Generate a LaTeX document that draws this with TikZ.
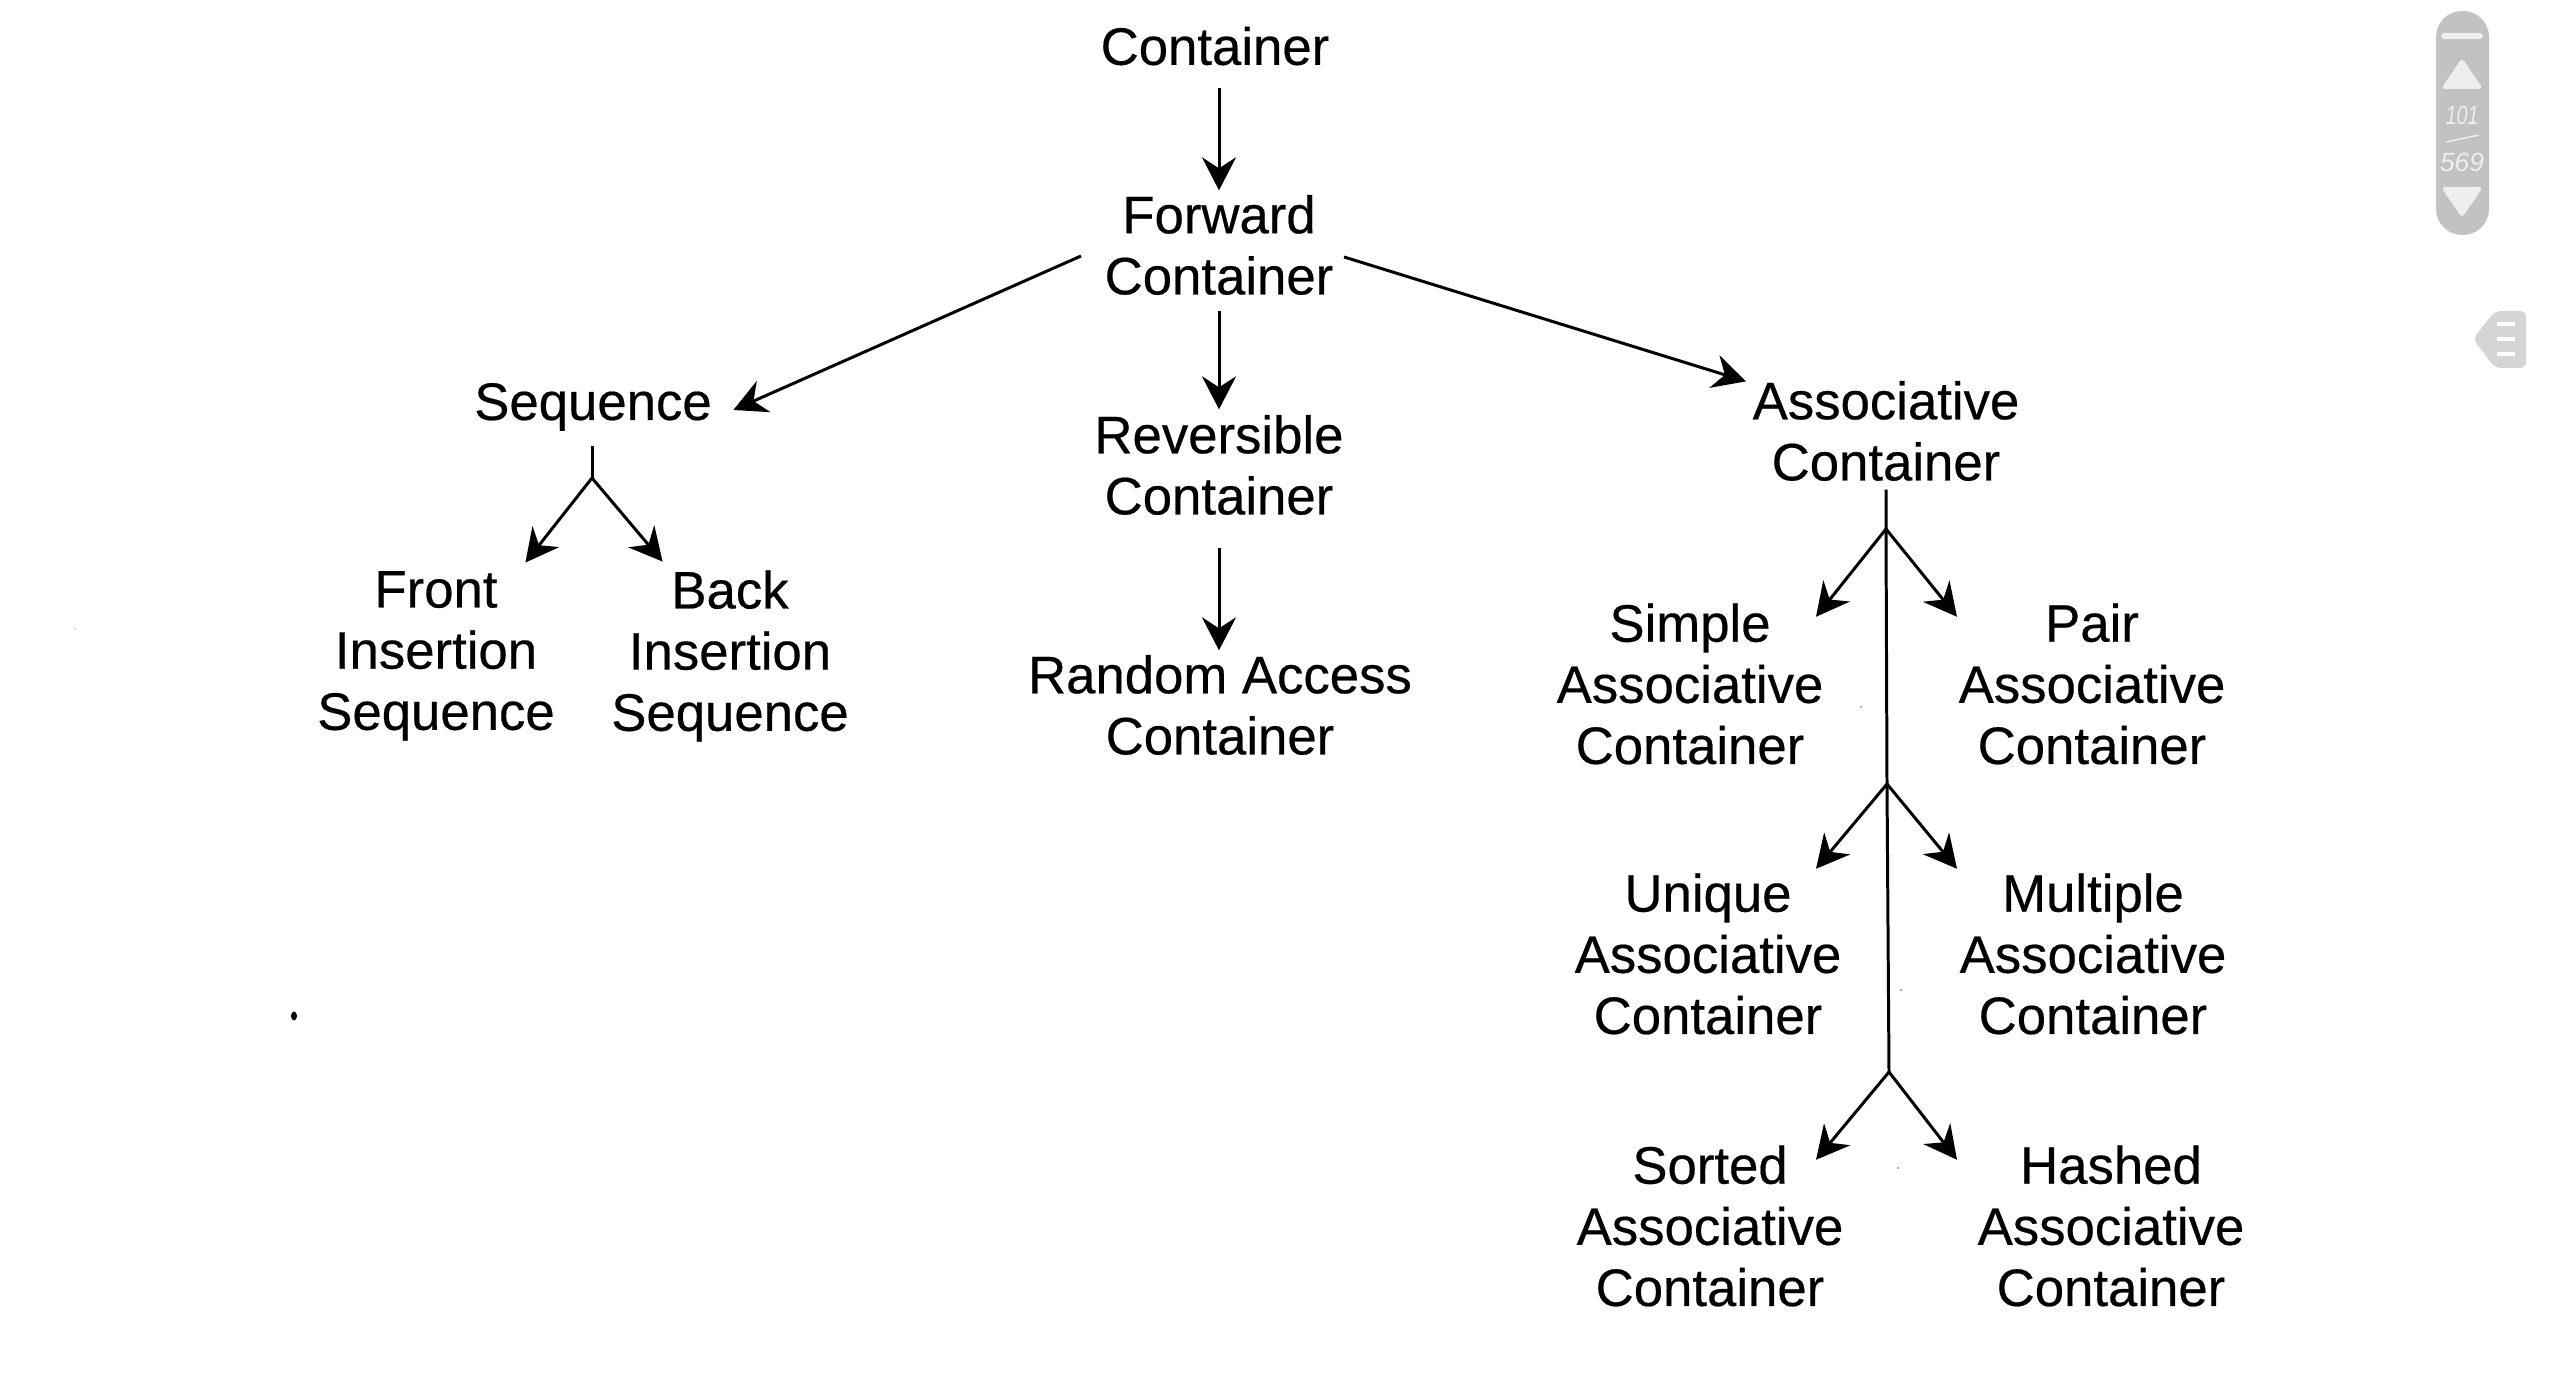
\documentclass[tikz,border=0pt]{standalone}
\usepackage{fontspec}
\setmainfont{Liberation Sans}
\newfontfamily\scanfont[FakeBold=0.4]{Liberation Sans}
\usepackage{xcolor}
\usepackage{tikz}
\usetikzlibrary{arrows.meta}
\definecolor{pagerbody}{HTML}{C2C2C2}
\definecolor{pagerkey}{HTML}{EEEEEE}
\definecolor{tabbody}{HTML}{D5D5D5}

\begin{document}
\begin{tikzpicture}[
concept/.style={inner sep=0pt,align=center,font=\scanfont\fontsize{15}{17.4}\selectfont},
pagenum/.style={inner sep=0pt,text=pagerkey,font=\fontsize{7.5}{8}\selectfont\itshape},
arr/.style={line width=0.85pt,-{Stealth[length=3.3mm,width=3.4mm,inset=1.1mm]}},
stem/.style={line width=0.85pt}
]
\useasboundingbox (0,0) rectangle (25.6,13.8);

% The nodes
\node[concept] (container) at (12.15,13.34) {Container};
\node[concept] (forward) at (12.19,11.35) {Forward\\Container};
\node[concept] (sequence) at (5.93,9.73) {Sequence};
\node[concept] (reversible) at (12.19,9.15) {Reversible\\Container};
\node[concept] (associative) at (18.86,9.49) {Associative\\Container};
\node[concept] (frontins) at (4.36,7.24) {Front\\Insertion\\Sequence};
\node[concept] (backins) at (7.30,7.24) {Back\\Insertion\\Sequence};
\node[concept] (randomacc) at (12.20,6.75) {Random Access\\Container};
\node[concept] (simple) at (16.90,6.96) {Simple\\Associative\\Container};
\node[concept] (pair) at (20.92,6.96) {Pair\\Associative\\Container};
\node[concept] (unique) at (17.08,4.26) {Unique\\Associative\\Container};
\node[concept] (multiple) at (20.93,4.26) {Multiple\\Associative\\Container};
\node[concept] (sorted) at (17.10,1.54) {Sorted\\Associative\\Container};
\node[concept] (hashed) at (21.11,1.54) {Hashed\\Associative\\Container};

% The forks
\coordinate (seqfork) at (5.92,9.02);
\coordinate (assocfork1) at (18.86,8.51);
\coordinate (assocfork2) at (18.87,5.96);
\coordinate (assocfork3) at (18.89,3.08);

% The upper arrows
\draw[arr,shorten <=2.2mm,shorten >=.4mm] (container.south -| forward) -- (forward.north);
\draw[arr,shorten <=1.5mm,shorten >=.5mm] (forward.south) -- (reversible.north);
\draw[arr,shorten <=3.2mm,shorten >=.4mm] (reversible.south) -- (reversible.south |- randomacc.north);
\draw[arr] ([shift={(-.23,-.11)}]forward.west) -- ([shift={(.21,-.03)}]sequence.east);
\draw[arr] ([shift={(.10,-.12)}]forward.east) -- ([shift={(-.06,-.01)}]associative.north west);

% The sequence fork
\draw[stem,shorten <=1.4mm] (sequence.south -| seqfork) -- (seqfork);
\draw[arr] (seqfork) -- ([shift={(-.30,.08)}]frontins.north east);
\draw[arr] (seqfork) -- ([shift={(.52,.08)}]backins.north west);

% The associative forks
\draw[stem,shorten <=.8mm] (associative.south -| assocfork1) -- (assocfork1) -- (assocfork2) -- (assocfork3);
\draw[arr] (assocfork1) -- ([shift={(-.08,-.14)}]simple.north east);
\draw[arr] (assocfork1) -- ([shift={(-.01,-.14)}]pair.north west);
\draw[arr] (assocfork2) -- ([shift={(-.26,.04)}]unique.north east);
\draw[arr] (assocfork2) -- ([shift={(-.02,.04)}]multiple.north west);
\draw[arr] (assocfork3) -- ([shift={(-.28,-.15)}]sorted.north east);
\draw[arr] (assocfork3) -- ([shift={(-.20,-.15)}]hashed.north west);

% The specks of the scan
\fill (2.94,3.64) ellipse (.03 and .045);
\fill[gray] (18.61,6.73) circle (.01);
\fill[gray] (19.01,3.90) circle (.01);
\fill[gray] (18.98,2.12) circle (.01);
\fill[lightgray] (.75,7.51) circle (.01);

% The pager at the right
\fill[pagerbody,rounded corners=.26cm] (24.36,11.45) rectangle (24.89,13.69);
\fill[pagerkey,rounded corners=.03cm] (24.41,13.41) rectangle (24.83,13.47);
\fill[pagerkey,rounded corners=.04cm] (24.62,13.22) -- (24.41,12.91) -- (24.83,12.91) -- cycle;
\fill[pagerkey,rounded corners=.04cm] (24.62,11.62) -- (24.41,11.93) -- (24.83,11.93) -- cycle;
\node[pagenum,xscale=.75] (pagenow) at (24.62,12.65) {101};
\node[pagenum] (pageall) at (24.62,12.18) {569};
\draw[pagerkey,line width=.4pt] (24.46,12.38) -- (24.79,12.45);

% The tab under it
\fill[tabbody,rounded corners=.06cm] (24.73,10.41) -- (24.95,10.69) -- (25.26,10.69) -- (25.26,10.12) -- (24.95,10.12) -- cycle;
\draw[white,line width=1pt] (24.97,10.56) -- (25.15,10.56);
\draw[white,line width=1pt] (24.97,10.41) -- (25.15,10.41);
\draw[white,line width=1pt] (24.97,10.26) -- (25.15,10.26);
\end{tikzpicture}
\end{document}
